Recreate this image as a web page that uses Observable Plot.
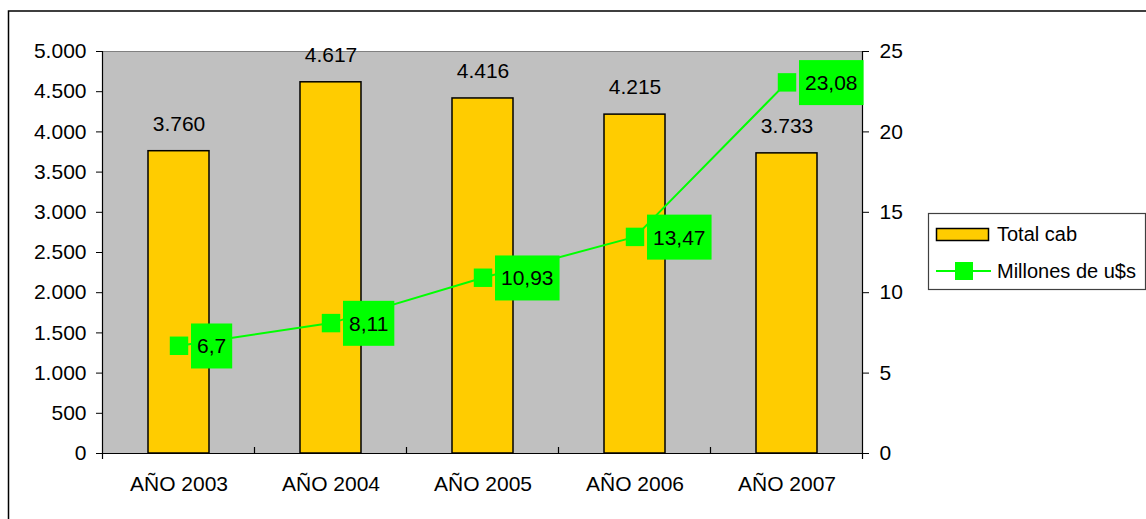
<!DOCTYPE html>
<html><head><meta charset="utf-8">
<script src="https://cdn.jsdelivr.net/npm/d3@7"></script>
<script src="https://cdn.jsdelivr.net/npm/@observablehq/plot@0.6"></script>
<style>
html,body{margin:0;padding:0;background:#fff;}
svg{display:block;}
</style>
</head><body><div id="chart"></div>
<script>
const years = ["AÑO 2003","AÑO 2004","AÑO 2005","AÑO 2006","AÑO 2007"];
const totalCab = [3760, 4617, 4416, 4215, 3733];
const millones = [6.7, 8.11, 10.93, 13.47, 23.08];
const leftTicks = [0,500,1000,1500,2000,2500,3000,3500,4000,4500,5000];
const rightTicks = [0,5,10,15,20,25];
const seriesNames = ["Total cab","Millones de u$s"];

const k = 5000 / 25; // right axis -> left axis
const esLocale = d3.formatLocale({decimal: ",", thousands: ".", grouping: [3], currency: ["$", ""]});
const fmtCab = esLocale.format(",d");
const fmtMill = v => String(v).replace(".", ",");

const data = years.map((y, i) => ({year: y, cab: totalCab[i], mill: millones[i], millY: millones[i] * k}));
const FONT = "'Liberation Sans', Arial, sans-serif";

const plot = Plot.plot({
  width: 1146, height: 519,
  marginLeft: 102, marginRight: 284, marginTop: 51, marginBottom: 66,
  style: {fontFamily: FONT, fontSize: "21px", color: "#000", background: "transparent", overflow: "visible"},
  x: {domain: years, paddingInner: 0.6, paddingOuter: 0.3, label: null},
  y: {domain: [0, 5000], label: null},
  marks: [
    Plot.frame({fill: "#c0c0c0", stroke: "#808080"}),
    Plot.barY(data, {x: "year", y: "cab", fill: "#ffcc00", stroke: "#000", strokeWidth: 1.5}),
    Plot.text(data, {x: "year", y: "cab", text: d => fmtCab(d.cab), dy: -27, fontSize: 21, fill: "#000"}),
    Plot.frame({anchor: "left", stroke: "#000", strokeWidth: 1.2}),
    Plot.frame({anchor: "right", stroke: "#000", strokeWidth: 1.2}),
    Plot.frame({anchor: "bottom", stroke: "#000", strokeWidth: 1.2}),
    Plot.axisY(leftTicks, {anchor: "left", tickSize: 6, tickPadding: 10, tickFormat: fmtCab, fontSize: 21, label: null}),
    Plot.axisY(rightTicks.map(d => d * k), {anchor: "right", tickSize: 6, tickPadding: 11, tickFormat: d => String(d / k), fontSize: 21, label: null}),
    Plot.axisX({tickSize: 0, tickPadding: 23, fontSize: 21, label: null}),
    Plot.lineY(data, {x: "year", y: "millY", stroke: "#00ff00", strokeWidth: 2}),
    Plot.dot(data, {x: "year", y: "millY", symbol: "square", r: 10.4, fill: "#00ff00", stroke: "none"}),
    Plot.text(data, {x: "year", y: "millY", text: d => fmtMill(d.mill), textAnchor: "start", dx: 18, dy: 1, fontSize: 21, fill: "#000", className: "mlabel"})
  ]
});

document.getElementById("chart").appendChild(plot);
const svg = d3.select(plot);

// green background boxes behind the line labels
svg.selectAll("g.mlabel text").each(function() {
  const t = this;
  const bb = t.getBBox();
  const cy = bb.y + bb.height / 2;
  const r = d3.select(t.parentNode).insert("rect", () => t)
    .attr("x", bb.x - 6).attr("y", cy - 22.5)
    .attr("width", bb.width + 12).attr("height", 45)
    .attr("fill", "#00ff00");
  if (t.getAttribute("transform")) r.attr("transform", t.getAttribute("transform"));
});

// category boundary ticks on x axis
const xs = plot.scale("x");
const ys = plot.scale("y");
const y0 = ys.apply(0);
const step = xs.step;
const bw = xs.bandwidth;
for (let i = 0; i < years.length - 1; i++) {
  const bx = xs.apply(years[i]) + bw / 2 + step / 2;
  svg.append("line").attr("x1", bx).attr("x2", bx).attr("y1", y0 - 6).attr("y2", y0)
    .attr("stroke", "#000").attr("stroke-width", 1.2);
}
[xs.apply(years[0]) + bw / 2 - step / 2, xs.apply(years[years.length - 1]) + bw / 2 + step / 2].forEach(bx => {
  svg.append("line").attr("x1", bx).attr("x2", bx).attr("y1", y0).attr("y2", y0 + 6)
    .attr("stroke", "#000").attr("stroke-width", 1.2);
});

// legend
const lg = svg.append("g").attr("font-family", FONT).attr("font-size", 20).attr("fill", "#000").attr("text-anchor", "start");
lg.append("rect").attr("x", 928.5).attr("y", 213.5).attr("width", 217).attr("height", 76)
  .attr("fill", "#fff").attr("stroke", "#404040").attr("stroke-width", 1.2);
lg.append("rect").attr("x", 936.5).attr("y", 228.5).attr("width", 52).attr("height", 12)
  .attr("fill", "#ffcc00").attr("stroke", "#000").attr("stroke-width", 1.5);
lg.append("text").attr("x", 997).attr("y", 234).attr("dy", "0.35em").attr("text-anchor", "start").text(seriesNames[0]);
lg.append("line").attr("x1", 936).attr("x2", 991).attr("y1", 271).attr("y2", 271)
  .attr("stroke", "#00ff00").attr("stroke-width", 2);
lg.append("rect").attr("x", 955).attr("y", 262).attr("width", 18).attr("height", 18).attr("fill", "#00ff00");
lg.append("text").attr("x", 997).attr("y", 271).attr("dy", "0.35em").attr("text-anchor", "start").text(seriesNames[1]);

// outer chart border (top and left visible)
svg.append("rect").attr("x", 8.5).attr("y", 11).attr("width", 1300).attr("height", 700)
  .attr("fill", "none").attr("stroke", "#000").attr("stroke-width", 1.5);
</script>
</body></html>
